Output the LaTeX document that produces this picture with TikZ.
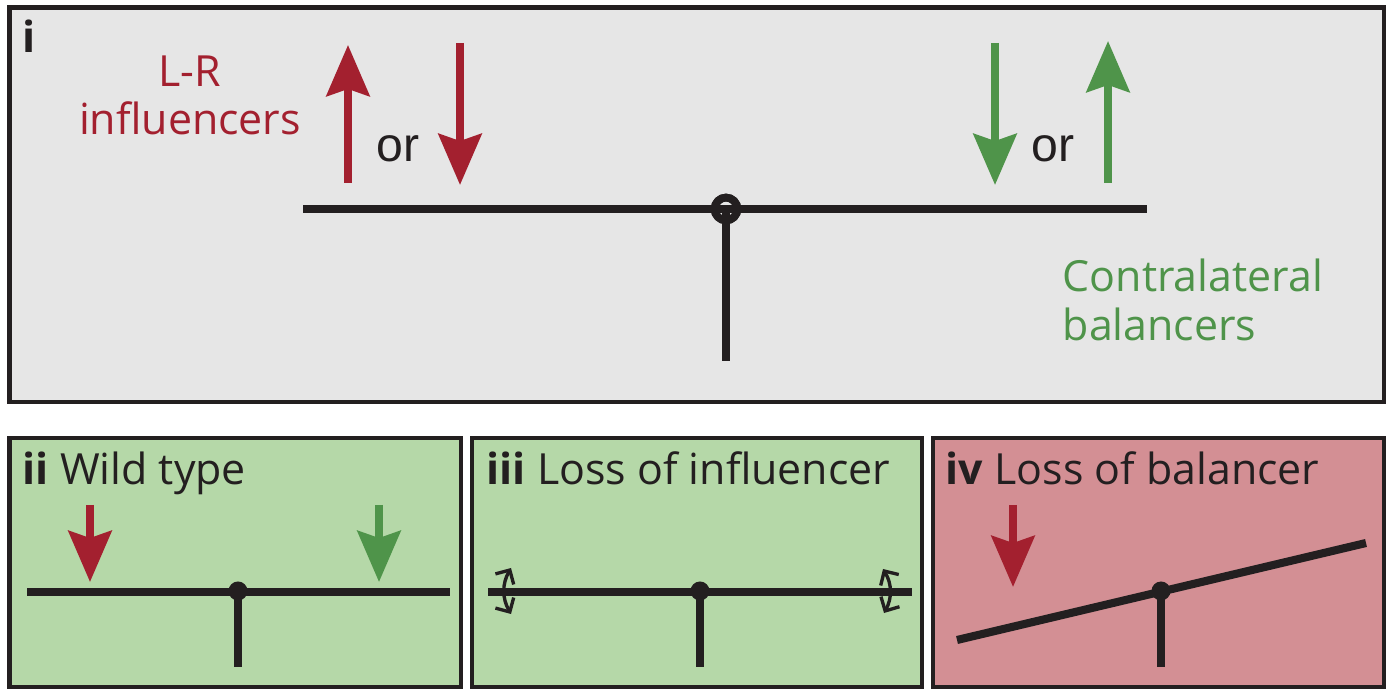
\documentclass[tikz,border=0pt]{standalone}
\usepackage{fontspec}
\setmainfont{Open Sans}
\newfontfamily\orfont{Liberation Sans}
\usetikzlibrary{arrows.meta}
\usetikzlibrary{positioning}

\definecolor{inkdark}{HTML}{231F20}
\definecolor{lrred}{HTML}{A3202F}
\definecolor{balgreen}{HTML}{4F944A}
\definecolor{panelgray}{HTML}{E6E6E6}
\definecolor{panelgreen}{HTML}{B5D8A8}
\definecolor{panelpink}{HTML}{D38F94}

\begin{document}
\begin{tikzpicture}[x=0.01cm,y=-0.01cm,
	font=\fontsize{12.2}{14}\selectfont,
	panel/.style={draw=inkdark,line width=1.15pt},
	beam/.style={draw=inkdark,line width=2.3pt},
	post/.style={draw=inkdark,line width=2.4pt},
	push/.style={line width=2.3pt,-{Stealth[length=14.5pt,width=12.2pt,inset=2pt]}},
	wobble/.style={draw=inkdark,line width=0.95pt,
		{Straight Barb[length=3pt,width=6pt]}-{Straight Barb[length=3pt,width=6pt]}},
	ring/.style={circle,draw=inkdark,line width=2.2pt,inner sep=0pt,minimum size=0.228cm},
	hinge/.style={circle,fill=inkdark,inner sep=0pt,minimum size=0.19cm},
	tag/.style={anchor=base west,inner sep=0pt,text=inkdark},
	or node/.style={anchor=base west,inner sep=0pt,text=inkdark,
		font=\orfont\fontsize{13.7}{16}\selectfont}]
	
	\useasboundingbox (0,0) rectangle (1389,689);
	
	% panels
	\draw[panel,fill=panelgray]  (9.5,7.5)  rectangle (1383.5,402);
	\draw[panel,fill=panelgreen] (9.5,438)  rectangle (461,687);
	\draw[panel,fill=panelgreen] (472,438)  rectangle (922,687);
	\draw[panel,fill=panelpink]  (933,438)  rectangle (1383.5,687);
	
	%%% i: the balance
	\node[tag] (tI) at (22,53) {\bfseries i};
	\node[anchor=base,inner sep=0pt,text=lrred] (lr) at (190,87) {L-R};
	\node[anchor=base,inner sep=0pt,text=lrred] (infl) at (190,135) {influencers};
	\node[tag,text=balgreen] (contra) at (1062,292) {Contralateral};
	\node[tag,text=balgreen] (bal) at (1062,341) {balancers};
	\node[or node] (orL) at (376,162) {or};
	\node[or node] (orR) at (1031,162) {or};
	
	\coordinate (bIL) at (303,209);
	\coordinate (bIR) at (1147,209);
	\coordinate (fI)  at (726,361);
	\draw[beam] (bIL) -- (bIR);
	\node[ring] (pI) at (726,209) {};
	\draw[post] (pI.center) -- (fI);
	\node[ring] at (pI) {};
	
	\coordinate (rU0) at (348,183);  \coordinate (rU1) at (348,45);
	\coordinate (rD0) at (460,43);   \coordinate (rD1) at (460,185);
	\coordinate (gD0) at (995,43);   \coordinate (gD1) at (995,185);
	\coordinate (gU0) at (1108,183); \coordinate (gU1) at (1108,41);
	\path (rU0) edge[push,lrred] (rU1)
	      (rD0) edge[push,lrred] (rD1)
	      (gD0) edge[push,balgreen] (gD1)
	      (gU0) edge[push,balgreen] (gU1);
	
	%%% ii: wild type
	\node[tag] (tII) at (22,485) {\textbf{ii} Wild type};
	\coordinate (bIIL) at (27,592);
	\coordinate (bIIR) at (450,592);
	\coordinate (fII)  at (238,667);
	\draw[beam] (bIIL) -- (bIIR);
	\node[hinge] (pII) at (238,591) {};
	\draw[post] (pII.center) -- (fII);
	\coordinate (rII0) at (90,505);  \coordinate (rII1) at (90,582);
	\coordinate (gII0) at (379,505); \coordinate (gII1) at (379,582);
	\path (rII0) edge[push,lrred] (rII1)
	      (gII0) edge[push,balgreen] (gII1);
	
	%%% iii: loss of influencer
	\node[tag] (tIII) at (486,485) {\textbf{iii} Loss of influencer};
	\coordinate (bIIIL) at (488,592);
	\coordinate (bIIIR) at (912,592);
	\coordinate (fIII)  at (700,667);
	\draw[beam] (bIIIL) -- (bIIIR);
	\node[hinge] (pIII) at (700,591) {};
	\draw[post] (pIII.center) -- (fIII);
	\coordinate (wL0) at (511,568); \coordinate (wL1) at (511,614);
	\coordinate (wR0) at (883,569); \coordinate (wR1) at (884,613);
	\draw[wobble] (wL0) to[bend right=30] (wL1);
	\draw[wobble] (wR0) to[bend left=30] (wR1);
	
	%%% iv: loss of balancer
	\node[tag] (tIV) at (945,485) {\textbf{iv} Loss of balancer};
	\coordinate (bIVL) at (957,640);
	\coordinate (bIVR) at (1366,543);
	\coordinate (fIV)  at (1161,667);
	\draw[beam] (bIVL) -- (bIVR);
	\node[hinge] (pIV) at (1161,591) {};
	\draw[post] (pIV.center) -- (fIV);
	\coordinate (rIV0) at (1013,505); \coordinate (rIV1) at (1013,587);
	\path (rIV0) edge[push,lrred] (rIV1);
	
\end{tikzpicture}
\end{document}
